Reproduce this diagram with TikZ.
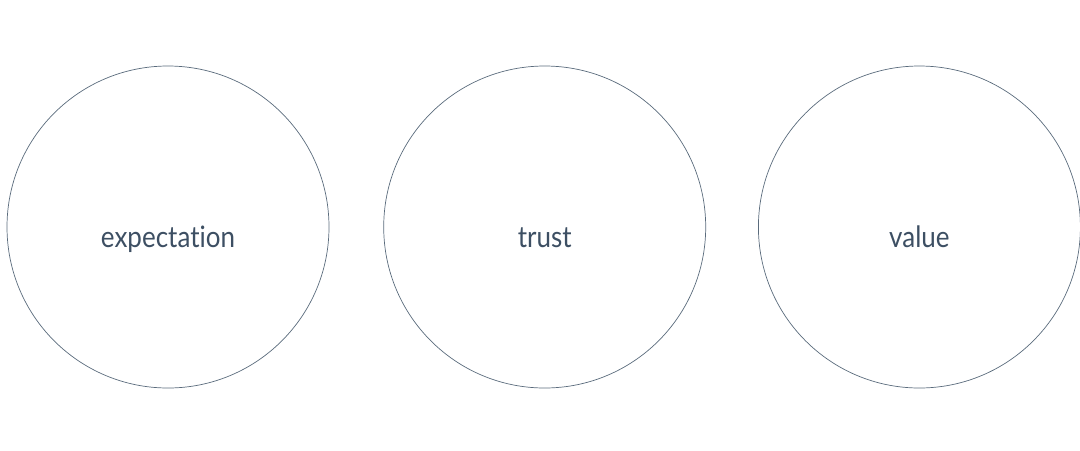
\documentclass[tikz,border=0pt]{standalone}
\usepackage{fontspec}
\setmainfont{Lato}[FakeStretch=0.88, Ligatures={NoCommon}]
\usepackage{xcolor}
\usetikzlibrary{positioning}
\definecolor{ringline}{HTML}{5A6B7C}
\definecolor{ringtext}{HTML}{3D4F63}

\begin{document}
\begin{tikzpicture}[
  % Base style for the rings
  ring/.style={circle, draw=ringline, line width=0.5pt, minimum size=8.05cm, inner sep=0pt},
  % Text placed slightly below the ring centre, same baseline for all
  ringlabel/.style={text=ringtext, font=\fontsize{21}{25}\selectfont,
    text height=0.75em, text depth=0.2em, yshift=-0.41cm},
]

  % Canvas
  \useasboundingbox (0,0) rectangle (27,-11.25);

  % Rings
  \node[ring, label={[ringlabel]center:expectation}] (expect) at (4.2,-5.675) {};
  \node[ring, right=1.35cm of expect, label={[ringlabel]center:trust}] (trust) {};
  \node[ring, right=1.3cm of trust, label={[ringlabel]center:value}] (value) {};

\end{tikzpicture}
\end{document}
